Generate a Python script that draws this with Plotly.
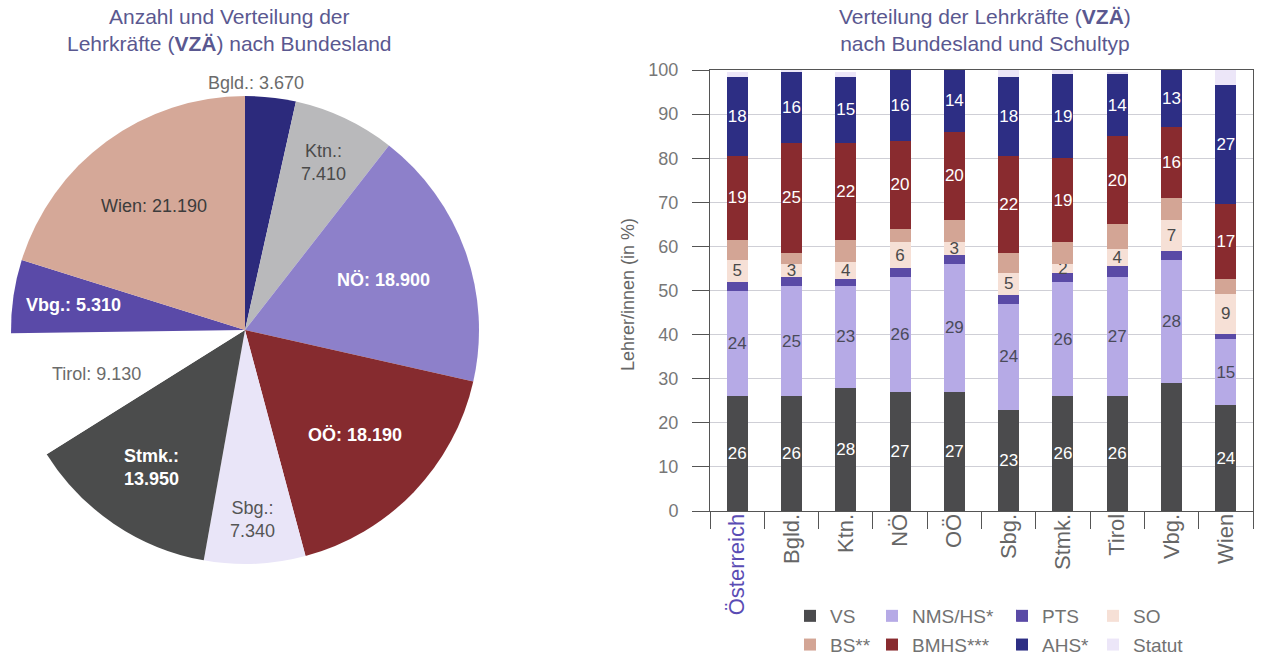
import math
import plotly.graph_objects as go

FONT = "Liberation Sans, Arial, Helvetica, sans-serif"
W, H = 1263, 658

# ---- Pie: teachers (full-time equivalents) per federal state ----
pie_states = ["Bgld.", "Ktn.", "NÖ", "OÖ", "Sbg.", "Stmk.", "Tirol", "Vbg.", "Wien"]
pie_values = [3670, 7410, 18900, 18190, 7340, 13950, 9130, 5310, 21190]
pie_colors = ["#2c2a7c", "#b9b9bb", "#8d80ca", "#862b2f", "#e9e5f8",
              "#4b4c4c", "#ffffff", "#5a4aa8", "#d5a898"]
pie_two_line = {"Ktn.", "Sbg.", "Stmk."}
pie_bold = {"NÖ", "OÖ", "Stmk.", "Vbg."}
pie_text_colors = ["#6b6b6b", "#4a4a4a", "#ffffff", "#ffffff", "#555555",
                   "#ffffff", "#6b6b6b", "#ffffff", "#3c3c3c"]
# label distance from the centre, as a share of the radius
pie_label_radius = [1.06, 0.79, 0.63, 0.65, 0.81, 0.71, 0.66, 0.74, 0.66]

# ---- Stacked bars: share of teachers per school type (in %) ----
regions = ["Österreich", "Bgld.", "Ktn.", "NÖ", "OÖ", "Sbg.", "Stmk.", "Tirol", "Vbg.", "Wien"]
vs     = [26, 26, 28, 27, 27, 23, 26, 26, 29, 24]
nms    = [24, 25, 23, 26, 29, 24, 26, 27, 28, 15]
pts    = [2, 2, 1.5, 2, 2, 2, 2, 2.5, 2, 1.2]
so     = [5, 3, 4, 6, 3, 5, 2, 4, 7, 9]
bs     = [4.5, 2.5, 5, 3, 5, 4.5, 5, 5.5, 5, 3.5]
bmhs   = [19, 25, 22, 20, 20, 22, 19, 20, 16, 17]
ahs    = [18, 16, 15, 16, 14, 18, 19, 14, 13, 27]
statut = [1, 0.5, 1, 0.3, 0.3, 1.5, 1, 0.5, 0.2, 3.2]

school_types = ["VS", "NMS/HS*", "PTS", "SO", "BS**", "BMHS***", "AHS*", "Statut"]
series = [vs, nms, pts, so, bs, bmhs, ahs, statut]
bar_colors = ["#4b4b4d", "#b6aae6", "#5a4aa6", "#f6e0d6",
              "#d3a595", "#892b2f", "#2d2e84", "#ece6f8"]
label_colors = ["#ffffff", "#4a4a5a", None, "#4a4a4a", None, "#ffffff", "#ffffff", None]
# segments whose values are written on the bar
labelled = [True, True, False, True, False, True, True, False]
hidden_labels = {("VS", "Vbg.")}

fig = go.Figure()


def fmt_de(v):
    return f"{v:,}".replace(",", ".")


# pie placement (pixels)
PIE_CX, PIE_CY, PIE_R = 245, 330, 234

fig.add_trace(go.Pie(
    labels=pie_states, values=pie_values,
    textinfo="none", sort=False, direction="clockwise", rotation=0,
    marker=dict(colors=pie_colors, line=dict(width=0)),
    domain=dict(x=[(PIE_CX - PIE_R) / W, (PIE_CX + PIE_R) / W],
                y=[(H - PIE_CY - PIE_R) / H, (H - PIE_CY + PIE_R) / H]),
    showlegend=False, hoverinfo="label+value", automargin=False,
))

annotations = []
total = sum(pie_values)
cum = 0
for s, v, col, rf in zip(pie_states, pie_values, pie_text_colors, pie_label_radius):
    mid = (cum + v / 2) / total * 2 * math.pi
    cum += v
    sep = "<br>" if s in pie_two_line else " "
    t = f"{s}:{sep}{fmt_de(v)}"
    if s in pie_bold:
        t = f"<b>{t}</b>"
    px = PIE_CX + rf * PIE_R * math.sin(mid)
    py = PIE_CY - rf * PIE_R * math.cos(mid)
    annotations.append(dict(
        text=t, x=px / W, y=(H - py) / H, xref="paper", yref="paper",
        xanchor="center", yanchor="middle", showarrow=False,
        xshift=-16 if rf > 1 else 0,
        font=dict(family=FONT, size=18, color=col)))

# legend layout: four columns of two rows
legend_cols = ["legend", "legend2", "legend3", "legend4"]
for i, (name, vals, col) in enumerate(zip(school_types, series, bar_colors)):
    txt = []
    for r, v in zip(regions, vals):
        if labelled[i] and (name, r) not in hidden_labels:
            txt.append(f"{v:g}")
        else:
            txt.append("")
    fig.add_trace(go.Bar(
        x=regions, y=vals, name=name, text=txt,
        textposition="inside", insidetextanchor="middle",
        constraintext="none", textangle=0,
        textfont=dict(family=FONT, size=17, color=label_colors[i] or "#444444"),
        marker=dict(color=col, line=dict(width=0)),
        legend=legend_cols[i % 4], legendgroup=name,
        hovertemplate="%{x}: %{y}%<extra>" + name + "</extra>",
    ))

tick_text = ['<span style="color:#5a4cb4">Österreich</span>'] + regions[1:]

legend_text_x = [830, 912, 1042, 1133]
leg_common = dict(orientation="v", xanchor="left", yanchor="bottom",
                  y=-6 / H, bgcolor="rgba(0,0,0,0)",
                  font=dict(family=FONT, size=19, color="#727272"),
                  tracegroupgap=1, itemwidth=30, traceorder="grouped")
legends = {}
for k, lx in zip(legend_cols, legend_text_x):
    legends[k] = dict(leg_common, x=(lx - 40) / W)

annotations += [
    dict(text="Anzahl und Verteilung der<br>Lehrkräfte (<b>VZÄ</b>) nach Bundesland",
         x=230 / W, y=(H - 3) / H, xref="paper", yref="paper",
         xanchor="center", yanchor="top", showarrow=False,
         font=dict(family=FONT, size=21, color="#5a5890")),
    dict(text="Verteilung der Lehrkräfte (<b>VZÄ</b>)<br>nach Bundesland und Schultyp",
         x=985 / W, y=(H - 3) / H, xref="paper", yref="paper",
         xanchor="center", yanchor="top", showarrow=False,
         font=dict(family=FONT, size=21, color="#5a5890")),
    dict(text="Lehrer/innen (in %)", textangle=-90,
         x=628 / W, y=(H - 295) / H, xref="paper", yref="paper",
         xanchor="center", yanchor="middle", showarrow=False,
         font=dict(family=FONT, size=18, color="#666666")),
]

fig.update_layout(
    width=W, height=H,
    margin=dict(l=0, r=0, t=0, b=0, autoexpand=False),
    paper_bgcolor="white", plot_bgcolor="white",
    font=dict(family=FONT, color="#666666"),
    barmode="stack", bargap=0.613,
    xaxis=dict(domain=[710 / W, 1253 / W], type="category", automargin=False,
               tickmode="array", tickvals=regions, ticktext=tick_text,
               tickson="boundaries", ticks="outside", ticklen=17,
               tickcolor="#555555", tickangle=-90, ticklabelstandoff=-7,
               tickfont=dict(family=FONT, size=22, color="#666666"),
               showline=True, linecolor="#555555", linewidth=1, mirror=True,
               showgrid=False, zeroline=False, fixedrange=True),
    yaxis=dict(domain=[(H - 511) / H, (H - 70) / H], range=[0, 100],
               automargin=False,
               dtick=10, ticks="outside", ticklen=17, tickcolor="#555555",
               ticklabelstandoff=10,
               tickfont=dict(family=FONT, size=18, color="#777777"),
               showline=True, linecolor="#555555", linewidth=1, mirror=True,
               showgrid=True, gridcolor="#cfcfd6", gridwidth=1,
               zeroline=False, fixedrange=True),
    showlegend=True,
    annotations=annotations,
    **legends,
)

fig.write_html("out.html")
